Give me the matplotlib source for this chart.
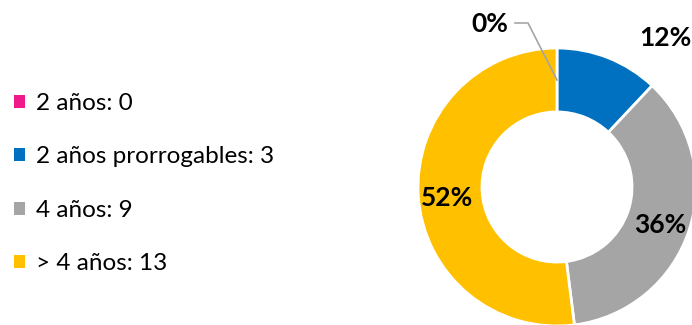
import matplotlib.pyplot as plt
from matplotlib.patches import Patch

categories = ["2 años", "2 años prorrogables", "4 años", "> 4 años"]
counts = [0, 3, 9, 13]
colors = ["#F0198C", "#0070C0", "#A5A5A5", "#FFC000"]
pct_labels = ["0%", "12%", "36%", "52%"]

plt.rcParams["font.family"] = ["Lato", "DejaVu Sans"]

W, H = 692, 325
fig = plt.figure(figsize=(W / 100, H / 100), dpi=100)
ax = fig.add_axes([0, 0, 1, 1])

cx, cy, r = 557, H - 187, 139
wedges, _ = ax.pie(counts, colors=colors, startangle=90, counterclock=False,
                   center=(cx, cy), radius=r, frame=True,
                   wedgeprops=dict(width=r * 0.46, edgecolor="white", linewidth=2))
ax.set_xlim(0, W)
ax.set_ylim(0, H)
ax.set_aspect("equal")
ax.axis("off")

# percentage labels (positions)
label_pos = [(490, H - 24), (665, H - 38), (660, H - 225), (447, H - 198)]
for txt, (x, y) in zip(pct_labels, label_pos):
    ax.text(x, y, txt, ha="center", va="center", fontsize=19, fontweight="bold", color="black")

# leader line for the 0% slice
ax.plot([515, 528, cx], [H - 23, H - 23, H - 80], color="#A5A5A5", lw=1.2)

handles = [Patch(facecolor=c, edgecolor="none") for c in colors]
labels = [f"{c}: {v}" for c, v in zip(categories, counts)]
ax.legend(handles, labels, loc="upper left", bbox_to_anchor=(-0.004, 0.766), frameon=False,
          fontsize=17.5, handlelength=0.45, handleheight=0.45, handletextpad=0.45,
          labelspacing=1.33, borderaxespad=0.3)

fig.savefig("out.png", dpi=100)
